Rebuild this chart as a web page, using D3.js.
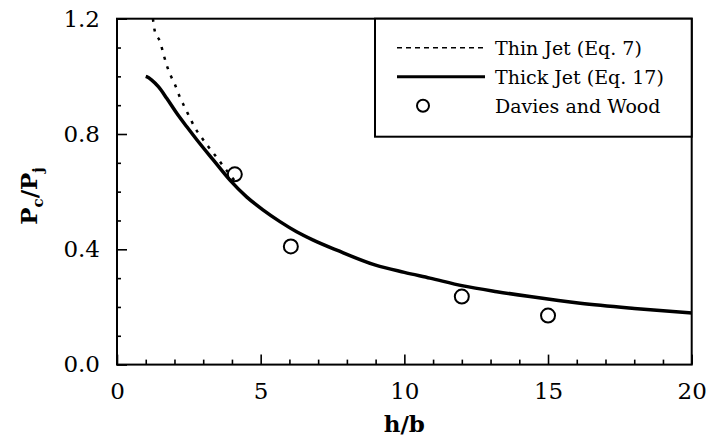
<!DOCTYPE html>
<html>
<head>
<meta charset="utf-8">
<script src="https://cdn.jsdelivr.net/npm/d3@7"></script>
<style>
  body { margin: 0; background: #fff; }
</style>
</head>
<body>
<div id="chart"></div>
<script>
// data
var thinJetX = [1.25, 1.32, 1.5, 1.61, 1.73, 1.88, 2.02, 2.17, 2.33, 2.52, 2.71, 2.95, 3.18, 3.5, 3.8, 4.2];
var thinJetY = [1.2, 1.155, 1.12, 1.08, 1.039, 1.0, 0.971, 0.932, 0.898, 0.86, 0.822, 0.787, 0.756, 0.715, 0.675, 0.625];

var thickJetX = [1.0, 1.03, 1.21, 1.44, 1.73, 2.08, 2.43, 2.77, 3.35, 3.93, 4.51, 5.09, 5.67, 6.25, 6.83, 7.65, 9.0, 10.0, 10.89, 12.05, 13.22, 14.37, 16.12, 18.0, 20.0];
var thickJetY = [1.0, 0.999, 0.987, 0.964, 0.924, 0.872, 0.825, 0.781, 0.710, 0.640, 0.582, 0.536, 0.496, 0.461, 0.432, 0.397, 0.345, 0.320, 0.300, 0.273, 0.253, 0.236, 0.213, 0.195, 0.179];

var daviesX = [4.1, 6.05, 12, 15];
var daviesY = [0.66, 0.41, 0.236, 0.17];

var xMajor = [0, 5, 10, 15, 20];
var yMajor = [0.0, 0.4, 0.8, 1.2];
var legendLabels = ["Thin Jet (Eq. 7)", "Thick Jet (Eq. 17)", "Davies and Wood"];

var svgWidth = 707, svgHeight = 440;
var margin = {top: 18.7, left: 117, right: 15.3, bottom: 75.4};
var chartWidth = svgWidth - margin.left - margin.right;
var chartHeight = svgHeight - margin.top - margin.bottom;
var serif = "DejaVu Serif";

var svg = d3.select("#chart").append("svg")
    .attr("width", svgWidth)
    .attr("height", svgHeight)
    .attr("font-family", serif);

var g = svg.append("g")
    .attr("transform", "translate(" + margin.left + "," + margin.top + ")");

var xScale = d3.scaleLinear().domain([0, 20]).range([0, chartWidth]);
var yScale = d3.scaleLinear().domain([0, 1.2]).range([chartHeight, 0]);

// minor ticks (inward)
var xMinor = d3.range(0, 21, 1).filter(d => d % 5 != 0);
var yMinor = d3.range(0, 13, 1).map(d => d / 10).filter(d => Math.round(d * 10) % 4 != 0);

g.append("g")
    .attr("transform", "translate(0," + chartHeight + ")")
    .call(d3.axisBottom(xScale).tickValues(xMinor).tickSize(-5).tickFormat(""))
    .call(a => a.select(".domain").remove());

g.append("g")
    .attr("transform", "translate(0," + chartHeight + ")")
    .call(d3.axisBottom(xScale).tickValues(xMajor).tickSize(-10).tickPadding(18)
          .tickFormat(d3.format("d")))
    .call(a => a.select(".domain").remove())
    .attr("font-family", serif)
    .selectAll("text")
        .attr("font-size", 23);

g.append("g")
    .call(d3.axisLeft(yScale).tickValues(yMinor).tickSize(-4).tickFormat(""))
    .call(a => a.select(".domain").remove());

g.append("g")
    .call(d3.axisLeft(yScale).tickValues(yMajor).tickSize(-10).tickPadding(17)
          .tickFormat(d3.format(".1f")))
    .call(a => a.select(".domain").remove())
    .attr("font-family", serif)
    .selectAll("text")
        .attr("font-size", 23);

g.selectAll(".tick line").attr("stroke", "#000").attr("stroke-width", 1.6);

// frame
g.append("rect")
    .attr("width", chartWidth)
    .attr("height", chartHeight)
    .attr("fill", "none")
    .attr("stroke", "#000")
    .attr("stroke-width", 2);

var line = d3.line()
    .x(d => xScale(d[0]))
    .y(d => yScale(d[1]))
    .curve(d3.curveMonotoneX);

g.append("path")
    .datum(thinJetX.map((x, i) => [x, thinJetY[i]]))
    .attr("d", line)
    .attr("fill", "none")
    .attr("stroke", "#000")
    .attr("stroke-width", 2.5)
    .attr("stroke-dasharray", "3,7");

g.append("path")
    .datum(thickJetX.map((x, i) => [x, thickJetY[i]]))
    .attr("d", line)
    .attr("fill", "none")
    .attr("stroke", "#000")
    .attr("stroke-width", 3.5);

g.selectAll("circle.davies")
    .data(daviesX.map((x, i) => [x, daviesY[i]]))
    .enter().append("circle")
    .attr("class", "davies")
    .attr("cx", d => xScale(d[0]))
    .attr("cy", d => yScale(d[1]))
    .attr("r", 7)
    .attr("fill", "none")
    .attr("stroke", "#000")
    .attr("stroke-width", 2);

// legend
var legend = svg.append("g").attr("transform", "translate(375," + margin.top + ")");
legend.append("rect")
    .attr("width", margin.left + chartWidth - 375)
    .attr("height", 118)
    .attr("fill", "#fff")
    .attr("stroke", "#000")
    .attr("stroke-width", 2);

var rowY = [29, 58, 87];
legend.append("line")
    .attr("x1", 22).attr("x2", 110).attr("y1", rowY[0]).attr("y2", rowY[0])
    .attr("stroke", "#000").attr("stroke-width", 1.6).attr("stroke-dasharray", "5,4");
legend.append("line")
    .attr("x1", 22).attr("x2", 110).attr("y1", rowY[1]).attr("y2", rowY[1])
    .attr("stroke", "#000").attr("stroke-width", 3);
legend.append("circle")
    .attr("cx", 48).attr("cy", rowY[2]).attr("r", 6)
    .attr("fill", "none").attr("stroke", "#000").attr("stroke-width", 2);

legend.selectAll("text.leg")
    .data(legendLabels)
    .enter().append("text")
    .attr("class", "leg")
    .attr("x", 120)
    .attr("y", (d, i) => rowY[i] + 7)
    .attr("font-size", 19)
    .text(d => d);

// axis titles
svg.append("text")
    .attr("x", margin.left + xScale(10))
    .attr("y", 432)
    .attr("text-anchor", "middle")
    .attr("font-size", 23)
    .attr("font-weight", "bold")
    .text("h/b");

var yTitle = svg.append("text")
    .attr("transform", "translate(37,196) rotate(-90)")
    .attr("text-anchor", "middle")
    .attr("font-size", 23)
    .attr("font-weight", "bold");
yTitle.append("tspan").text("P");
yTitle.append("tspan").attr("font-size", 15).attr("dy", 6).text("c");
yTitle.append("tspan").attr("dy", -6).text("/P");
yTitle.append("tspan").attr("font-size", 15).attr("dy", 6).text("j");
</script>
</body>
</html>
